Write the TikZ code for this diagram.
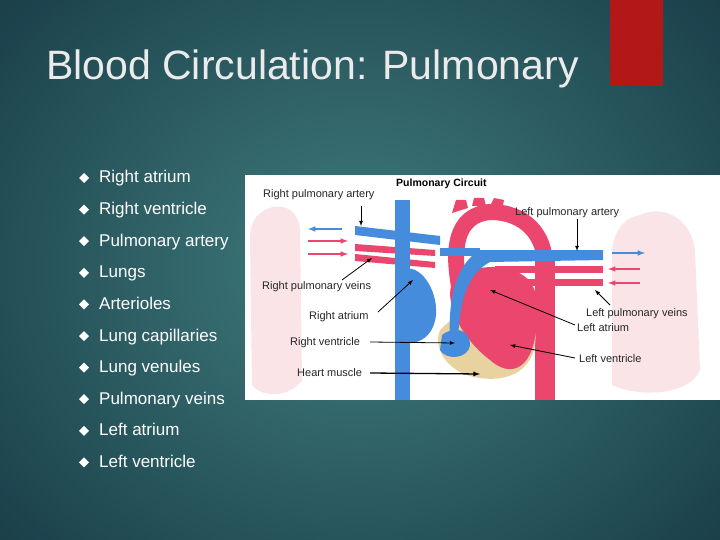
\documentclass[tikz,border=0pt]{standalone}
\usepackage{fontspec}
\setmainfont{Liberation Sans}
\definecolor{vein}{RGB}{70,140,220}
\definecolor{art}{RGB}{235,70,110}
\definecolor{musc}{RGB}{232,210,160}
\definecolor{lung}{RGB}{250,228,232}
\definecolor{bgin}{RGB}{64,125,125}
\definecolor{bgout}{RGB}{12,40,55}
\definecolor{redbox}{RGB}{178,24,24}
\begin{document}
\begin{tikzpicture}[x=1pt,y=-1pt,
 bul/.style={anchor=base west,font=\fontsize{17}{19}\selectfont,text=white,inner sep=0},
 lab/.style={anchor=base west,font=\fontsize{11}{12}\selectfont,inner sep=0,text=black!85},
 ptr/.style={-latex,black,line width=0.8pt}]
\useasboundingbox (0,0) rectangle (720,540);
\shade[inner color=bgin,outer color=bgout] (-300,-300) rectangle (1020,840);
\fill[redbox] (610,0) rectangle (663,86);
\node[anchor=base west,inner sep=0,text=white!92!black,font=\fontsize{41}{43}\selectfont] (title) at (46,80) {Blood Circulation: Pulmonary};
\foreach \t [count=\i] in {Right atrium,Right ventricle,Pulmonary artery,Lungs,Arterioles,Lung capillaries,Lung venules,Pulmonary veins,Left atrium,Left ventricle}{
  \pgfmathsetmacro{\yy}{183+31.6*(\i-1)}
  \fill[white] (79,\yy-5) -- (84,\yy-10) -- (89,\yy-5) -- (84,\yy) -- cycle;
  \node[bul] (b\i) at (99,\yy) {\t};
}
% picture
\fill[white] (245,175) rectangle (720,400);
\fill[lung] (258,215) .. controls (275,200) and (298,205) .. (300,230) -- (302,380) .. controls (290,398) and (262,398) .. (252,385) -- (250,240) .. controls (250,228) and (253,220) .. (258,215);
\fill[lung] (640,215) .. controls (660,205) and (690,215) .. (695,250) -- (700,370) .. controls (690,395) and (640,398) .. (612,385) -- (612,250) .. controls (615,228) and (625,218) .. (640,215);
\fill[art] (535,250) rectangle (555,400);
\fill[musc] (440,330) .. controls (470,300) and (510,290) .. (530,315) .. controls (545,345) and (530,385) .. (480,378) .. controls (450,375) and (432,350) .. (440,330);
\fill[art] (355,244) -- (435,250) -- (435,256) -- (355,251) -- cycle;
\fill[art] (355,254) -- (435,262) -- (435,268) -- (355,261) -- cycle;
% aortic arch
\draw[art,line width=16pt] (462,300) .. controls (450,250) and (455,215) .. (490,212) .. controls (525,212) and (545,235) .. (545,265);
\fill[art] (452,213) -- (456,200) -- (466,200) -- (468,208) -- cycle;
\fill[art] (472,206) -- (474,198) -- (484,198) -- (486,206) -- cycle;
\fill[art] (490,206) -- (494,198) -- (504,200) -- (502,210) -- cycle;
% left atrium / ventricle
\fill[art] (470,270) .. controls (500,262) and (536,270) .. (536,300) -- (536,330) .. controls (532,370) and (510,378) .. (490,360) .. controls (470,345) and (452,320) .. (450,295) .. controls (450,280) and (458,273) .. (470,270);
\fill[art] (495,266) rectangle (603,273);
\fill[art] (495,279) rectangle (603,286);
\fill[vein] (395,200) rectangle (410,400);
\fill[vein] (402,270) .. controls (420,262) and (438,290) .. (436,315) .. controls (434,335) and (420,345) .. (405,343) -- (400,300) -- cycle;
\fill[vein] (355,226) -- (440,236) -- (440,245) -- (355,235) -- cycle;
\fill[vein] (450,340) .. controls (448,300) and (455,265) .. (480,250) -- (603,250) -- (603,260) -- (490,262) .. controls (465,275) and (460,305) .. (458,338) -- cycle;
\fill[vein] (440,248) rectangle (480,256);
\fill[vein] (442,335) .. controls (455,325) and (470,330) .. (470,345) .. controls (468,360) and (445,360) .. (440,350) -- cycle;
\draw[-latex,vein,line width=1.5pt] (342,229) -- (308,229);
\draw[-latex,art,line width=1.5pt] (308,241) -- (348,241);
\draw[-latex,art,line width=1.5pt] (308,254) -- (348,254);
\draw[-latex,vein,line width=1.5pt] (612,253) -- (645,253);
\draw[-latex,art,line width=1.5pt] (640,269) -- (608,269);
\draw[-latex,art,line width=1.5pt] (640,283) -- (608,283);
\node[anchor=base west,inner sep=0,font=\bfseries\fontsize{10.5}{11}\selectfont] (pc) at (396,187) {Pulmonary Circuit};
\node[lab] (l1) at (263,198) {Right pulmonary artery};
\node[lab] (l2) at (515,215) {Left pulmonary artery};
\node[lab] (l3) at (262,289) {Right pulmonary veins};
\node[lab] (l4) at (309,319) {Right atrium};
\node[lab] (l5) at (290,345) {Right ventricle};
\node[lab] (l6) at (297,376) {Heart muscle};
\node[lab] (l7) at (586,316) {Left pulmonary veins};
\node[lab] (l8) at (577,331) {Left atrium};
\node[lab] (l9) at (579,362) {Left ventricle};
\coordinate (t1) at (361,226); \coordinate (t2) at (577,251);
\coordinate (t3) at (372,258); \coordinate (t4) at (413,280);
\coordinate (t5) at (455,343); \coordinate (t6) at (480,374);
\coordinate (t7) at (595,290); \coordinate (t8) at (490,290);
\coordinate (t9) at (510,345);
\draw[ptr] (361,206) -- (t1);
\draw[ptr] (577,219) -- (t2);
\draw[ptr] (342,280) -- (t3);
\draw[ptr] (378,312) -- (t4);
\draw[ptr] (370,342) -- (t5);
\draw[ptr,line width=1.3pt] (370,373) -- (t6);
\draw[ptr] (610,305) -- (t7);
\draw[ptr] (575,325) -- (t8);
\draw[ptr] (575,358) -- (t9);
\end{tikzpicture}
\end{document}
